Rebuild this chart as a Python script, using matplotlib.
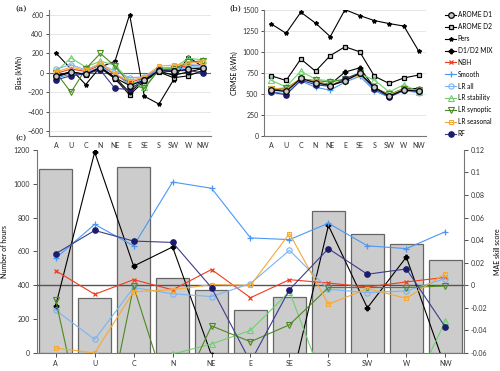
import matplotlib
matplotlib.use('Agg')
import matplotlib.pyplot as plt
import numpy as np

plt.rcParams['font.family'] = ['Lato', 'DejaVu Sans']

dirs = ['A', 'U', 'C', 'N', 'NE', 'E', 'SE', 'S', 'SW', 'W', 'NW']

# panel (a): bias (kWh)
bias_d1 = [-30, 10, -15, 55, -50, -130, -75, 20, 15, 40, 50]
bias_d2 = [-40, 5, -20, 50, -60, -225, -85, 10, -50, -30, 25]
bias_pers = [200, 40, -120, 60, 120, 600, -240, -320, -70, 165, 60]
bias_mix = [-25, 10, -15, 60, -45, -200, -70, 20, -25, 10, 45]
bias_nbh = [-5, 40, 15, 80, -20, -100, -50, 50, 45, 75, 80]
bias_smooth = [-50, -15, 0, 60, 0, -130, -55, 40, 30, 60, 60]
bias_lrall = [40, 85, 30, 90, 20, -50, -40, 50, 60, 85, 75]
bias_lrstab = [15, 155, 60, 120, 80, -80, -150, 40, 50, 150, 135]
bias_lrsyn = [0, -200, 40, 200, 70, -110, -160, 30, 40, 110, 125]
bias_lrseas = [10, 60, 25, 100, -10, -80, -40, 70, 80, 100, 110]
bias_rf = [-70, -30, -10, 30, -160, -170, -70, 30, 20, 25, 0]

# panel (b): CRMSE (kWh)
crmse_d1 = [550, 530, 685, 635, 600, 655, 745, 580, 475, 550, 530]
crmse_d2 = [715, 660, 915, 770, 955, 1060, 1000, 710, 625, 690, 725]
crmse_pers = [1330, 1220, 1470, 1340, 1180, 1500, 1430, 1370, 1335, 1305, 1010]
crmse_mix = [560, 545, 680, 640, 615, 760, 810, 575, 480, 565, 565]
crmse_nbh = [555, 540, 680, 635, 605, 665, 740, 570, 480, 555, 545]
crmse_smooth = [530, 500, 655, 580, 545, 640, 710, 540, 460, 540, 515]
crmse_lrall = [545, 530, 675, 625, 595, 655, 735, 565, 475, 550, 540]
crmse_lrstab = [660, 585, 770, 675, 655, 665, 740, 665, 525, 610, 525]
crmse_lrsyn = [560, 570, 680, 660, 640, 680, 745, 575, 495, 565, 550]
crmse_lrseas = [575, 550, 690, 640, 610, 665, 725, 575, 485, 560, 545]
crmse_rf = [520, 490, 665, 610, 590, 680, 750, 560, 465, 545, 540]

# panel (c): hours per class and MAE skill score
hours = [1087, 325, 1099, 443, 370, 252, 331, 841, 703, 646, 551]
skill_mix = [-0.018, 0.118, 0.017, 0.034, -0.062, -0.10, -0.093, 0.053, -0.020, 0.025, -0.073]
skill_nbh = [0.013, -0.008, 0.005, -0.004, 0.014, -0.011, 0.005, 0.002, -0.0015, 0.003, 0.007]
skill_smooth = [0.024, 0.054, 0.035, 0.0915, 0.086, 0.042, 0.0405, 0.055, 0.035, 0.0325, 0.0475]
skill_lrall = [-0.022, -0.048, -0.002, -0.0075, -0.010, 0.0015, 0.031, -0.0035, -0.0065, -0.005, 0.006]
skill_lrstab = [-0.10, -0.12, -0.09, -0.061, -0.052, -0.040, -0.0056, -0.097, -0.12, -0.104, -0.032]
skill_lrsyn = [-0.013, -0.17, -0.001, -0.11, -0.036, -0.050, -0.035, -0.002, -0.002, -0.002, -0.0006]
skill_lrseas = [-0.0556, -0.060, -0.0057, -0.0039, 0.0006, 0.0, 0.0458, -0.0168, -0.003, -0.0115, 0.0103]
skill_rf = [0.028, 0.0486, 0.0392, 0.038, -0.0021, -0.068, -0.0038, 0.0325, 0.0098, 0.0145, -0.037]

GRAY_FACE = '#c8c8c8'
styles = {
    'AROME D1': dict(color='black', marker='o', mfc=GRAY_FACE, mec='black', ms=4, mew=0.9),
    'AROME D2': dict(color='black', marker='s', mfc=GRAY_FACE, mec='black', ms=3.5, mew=0.9),
    'Pers': dict(color='black', marker='*', ms=3),
    'D1/D2 MIX': dict(color='black', marker='P', ms=3.2),
    'NBH': dict(color='#f03c1e', marker='x', ms=3.2, mew=0.9),
    'Smooth': dict(color='#4a98f5', marker='+', ms=4.5, mew=0.9),
    'LR all': dict(color='#7ab4f5', marker='o', mfc='none', ms=3.8, mew=0.8),
    'LR stability': dict(color='#70d070', marker='^', mfc='none', ms=3.8, mew=0.8),
    'LR synoptic': dict(color='#4c8a20', marker='v', mfc='none', ms=3.8, mew=0.8),
    'LR seasonal': dict(color='#f5a936', marker='s', mfc='none', ms=3.4, mew=0.8),
    'RF': dict(color='#3c3c8c', marker='o', mfc='#1c1c6c', mec='#1c1c6c', ms=3.8),
}
order = ['Pers', 'AROME D2', 'D1/D2 MIX', 'NBH', 'Smooth', 'LR all', 'LR stability',
         'LR synoptic', 'LR seasonal', 'RF', 'AROME D1']
legend_order = ['AROME D1', 'AROME D2', 'Pers', 'D1/D2 MIX', 'NBH', 'Smooth', 'LR all',
                'LR stability', 'LR synoptic', 'LR seasonal', 'RF']

bias = {'AROME D1': bias_d1, 'AROME D2': bias_d2, 'Pers': bias_pers, 'D1/D2 MIX': bias_mix,
        'NBH': bias_nbh, 'Smooth': bias_smooth, 'LR all': bias_lrall, 'LR stability': bias_lrstab,
        'LR synoptic': bias_lrsyn, 'LR seasonal': bias_lrseas, 'RF': bias_rf}
crmse = {'AROME D1': crmse_d1, 'AROME D2': crmse_d2, 'Pers': crmse_pers, 'D1/D2 MIX': crmse_mix,
         'NBH': crmse_nbh, 'Smooth': crmse_smooth, 'LR all': crmse_lrall, 'LR stability': crmse_lrstab,
         'LR synoptic': crmse_lrsyn, 'LR seasonal': crmse_lrseas, 'RF': crmse_rf}
skill = {'D1/D2 MIX': skill_mix, 'NBH': skill_nbh, 'Smooth': skill_smooth, 'LR all': skill_lrall,
         'LR stability': skill_lrstab, 'LR synoptic': skill_lrsyn, 'LR seasonal': skill_lrseas,
         'RF': skill_rf}

FS = 5
SPINE = '#777777'
LW = 0.8
x = np.arange(len(dirs))

fig = plt.figure(figsize=(5, 3.71), dpi=100)
fig.patch.set_facecolor('white')
ax_a = fig.add_axes([0.098, 0.633, 0.324, 0.341])
ax_b = fig.add_axes([0.528, 0.633, 0.324, 0.341])
ax_c = fig.add_axes([0.074, 0.0485, 0.854, 0.5475])


def style_top(ax):
    ax.spines[['top', 'right']].set_visible(False)
    ax.spines[['left', 'bottom']].set_color(SPINE)
    ax.tick_params(labelsize=FS, colors='#333333', length=2, width=0.6, pad=2)
    ax.tick_params(axis='x', length=0, pad=4)
    ax.yaxis.grid(True, color='#e6e6e6', lw=0.7)
    ax.set_axisbelow(True)
    ax.set_xticks(x)
    ax.set_xticklabels(dirs)


for name in order:
    ax_a.plot(x, bias[name], lw=LW, **styles[name])
ax_a.axhline(0, color='#666666', lw=0.8, zorder=1)
ax_a.set_xlim(-0.5, 10.55)
ax_a.set_ylim(-650, 650)
ax_a.set_yticks(np.arange(-600, 601, 200))
ax_a.set_ylabel('Bias (kWh)', fontsize=FS, labelpad=3)
style_top(ax_a)

lines = {}
for name in order:
    lines[name], = ax_b.plot(x, crmse[name], lw=LW, label=name, **styles[name])
ax_b.set_xlim(-0.5, 10.5)
ax_b.set_ylim(0, 1500)
ax_b.set_yticks(np.arange(0, 1501, 250))
ax_b.set_ylabel('CRMSE (kWh)', fontsize=FS, labelpad=3)
style_top(ax_b)

fig.legend([lines[n] for n in legend_order], legend_order, loc='upper left',
           bbox_to_anchor=(0.885, 0.977), frameon=False, fontsize=4.7,
           handlelength=1.7, handletextpad=0.25, labelspacing=0.75, borderaxespad=0)

# panel (c)
ax_c.bar(x, hours, width=0.86, color='#cccccc', edgecolor='#666666', linewidth=0.9, zorder=1)
ax_c.set_xlim(-0.48, 10.48)
ax_c.set_ylim(0, 1200)
ax_c.set_yticks(np.arange(0, 1201, 200))
ax_c.set_ylabel('Number of hours', fontsize=FS, labelpad=4)
ax_c.set_xticks(x)
ax_c.set_xticklabels(dirs)
ax_c.spines[['top', 'right']].set_visible(False)
ax_c.spines[['left', 'bottom']].set_color(SPINE)
ax_c.tick_params(labelsize=FS, colors='#333333', length=3, width=0.6, pad=2)

ax_c2 = ax_c.twinx()
ax_c2.axhline(0, color='#555555', lw=1.0, zorder=1)
for name in order:
    if name in skill:
        ax_c2.plot(x, skill[name], lw=LW, **styles[name])
ax_c2.set_ylim(-0.06, 0.12)
ax_c2.set_yticks(np.arange(-0.06, 0.121, 0.02))
ax_c2.set_yticklabels(['-0.06', '-0.04', '-0.02', '0', '0.02', '0.04', '0.06', '0.08', '0.1', '0.12'])
ax_c2.set_ylabel('MAE skill score', fontsize=FS, labelpad=5)
ax_c2.spines[['top', 'left', 'bottom']].set_visible(False)
ax_c2.spines['right'].set_color(SPINE)
ax_c2.tick_params(labelsize=FS, colors='#333333', length=3, width=0.6, pad=2)

for lab, (fx, fy) in {'(a)': (0.03, 0.975), '(b)': (0.458, 0.975), '(c)': (0.03, 0.628)}.items():
    fig.text(fx, fy, lab, fontsize=6, family='DejaVu Serif', ha='left', va='center')

fig.savefig('out.png', dpi=100, facecolor='white')
